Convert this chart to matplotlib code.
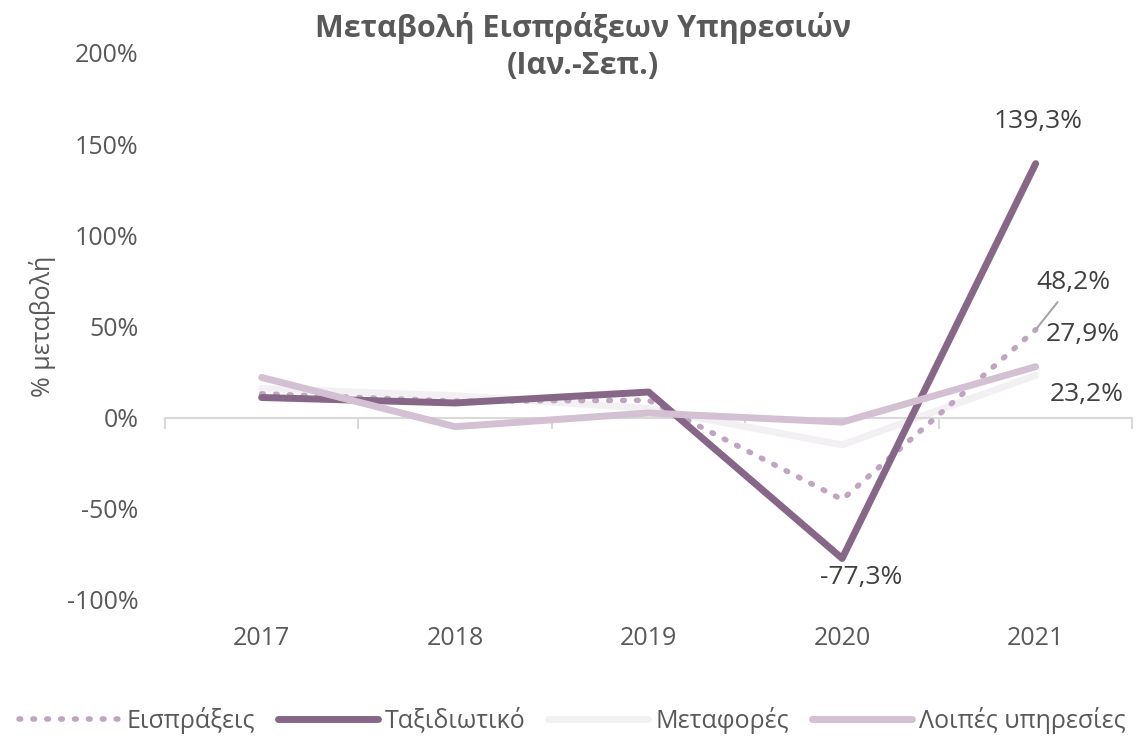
import matplotlib.pyplot as plt
from matplotlib.ticker import FuncFormatter

plt.rcParams['font.family'] = ['Open Sans', 'DejaVu Sans']

years = ['2017', '2018', '2019', '2020', '2021']
eispraxeis = [13.0, 9.0, 9.5, -45.0, 48.2]
taxidiotiko = [11.0, 8.0, 14.0, -77.3, 139.3]
metafores = [16.0, 12.0, 5.0, -15.0, 23.2]
loipes = [22.0, -5.0, 2.5, -2.5, 27.9]

grey = '#595959'
x = list(range(len(years)))

fig = plt.figure(figsize=(11.45, 7.36), dpi=100)
ax = fig.add_axes([0.144, 0.185, 0.845, 0.743])

ax.plot(x, eispraxeis, color='#C0A5C0', lw=4, linestyle=(0, (0.3, 2.2)),
        dash_capstyle='round', label='Εισπράξεις', zorder=3)
ax.plot(x, taxidiotiko, color='#866787', lw=5, solid_capstyle='round',
        label='Ταξιδιωτικό', zorder=4)
ax.plot(x, metafores, color='#F3F0F4', lw=5, solid_capstyle='round',
        label='Μεταφορές', zorder=2)
ax.plot(x, loipes, color='#D3C1D3', lw=5, solid_capstyle='round',
        label='Λοιπές υπηρεσίες', zorder=5)

ax.set_xlim(-0.5, 4.5)
ax.set_ylim(-100, 200)
ax.set_yticks([-100, -50, 0, 50, 100, 150, 200])
ax.yaxis.set_major_formatter(FuncFormatter(lambda v, p: f'{v:.0f}%'))

for s in ['top', 'right', 'left']:
    ax.spines[s].set_visible(False)
ax.spines['bottom'].set_position(('data', 0))
ax.spines['bottom'].set_color('#D9D9D9')
ax.spines['bottom'].set_linewidth(1.5)

ax.set_xticks(x)
ax.set_xticklabels(years)
ax.set_xticks([i - 0.5 for i in range(len(years) + 1)], minor=True)
ax.tick_params(axis='x', which='major', length=0, pad=150, labelsize=18, labelcolor=grey)
ax.tick_params(axis='x', which='minor', length=8, width=1.5, color='#D9D9D9', direction='out')
ax.tick_params(axis='y', length=0, labelsize=18, labelcolor=grey, pad=19)

ax.set_ylabel('% μεταβολή', fontsize=18, color=grey, labelpad=8)
fig.text(0.509, 1 - 12 / 736, 'Μεταβολή Εισπράξεων Υπηρεσιών\n(Ιαν.-Σεπ.)',
         fontsize=22, fontweight='bold', color=grey, ha='center', va='top',
         linespacing=1.3)

def fmt(v):
    return f'{v:.1f}%'.replace('.', ',')

lab = dict(fontsize=19, color='#404040', textcoords='offset points',
           ha='center', va='center')
ax.annotate(fmt(taxidiotiko[4]), (4, taxidiotiko[4]), xytext=(2, 30), **lab)
ax.annotate(fmt(taxidiotiko[3]), (3, taxidiotiko[3]), xytext=(14, -14), **lab)
ax.annotate(fmt(eispraxeis[4]), (4, eispraxeis[4]), xytext=(27, 34),
            arrowprops=dict(arrowstyle='-', color='#A6A6A6', lw=1.5,
                            shrinkA=4, shrinkB=1), **lab)
ax.annotate(fmt(loipes[4]), (4, loipes[4]), xytext=(34, 23), **lab)
ax.annotate(fmt(metafores[4]), (4, metafores[4]), xytext=(37, -14), **lab)

fig.legend(loc='center', ncol=4, frameon=False, fontsize=18,
           labelcolor=grey, bbox_to_anchor=(0.5, 1 - 720 / 736), handlelength=4.0,
           columnspacing=0.9, handletextpad=0.3)

fig.savefig('out.png', dpi=100)
